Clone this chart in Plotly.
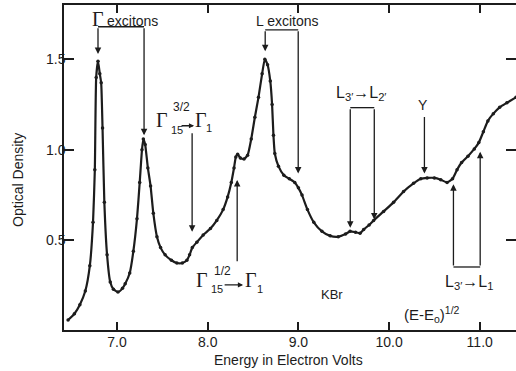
import plotly.graph_objects as go

# ---------------- data ----------------
energy = [6.46, 6.53, 6.59, 6.65, 6.70, 6.735, 6.755, 6.77, 6.79, 6.81, 6.825, 6.84,
          6.86, 6.89, 6.925, 6.96, 7.01, 7.06, 7.09, 7.14, 7.18, 7.22, 7.25, 7.275,
          7.29, 7.31, 7.34, 7.37, 7.40, 7.44, 7.48, 7.53, 7.60, 7.66, 7.72, 7.77,
          7.80, 7.83, 7.88, 7.95, 8.03, 8.10, 8.17, 8.22, 8.26, 8.29, 8.31, 8.33,
          8.36, 8.40, 8.44, 8.48, 8.52, 8.56, 8.60, 8.63, 8.66, 8.69, 8.71, 8.725,
          8.74, 8.78, 8.84, 8.90, 8.96, 9.00, 9.04, 9.10, 9.17, 9.26, 9.35, 9.44,
          9.52, 9.57, 9.63, 9.68, 9.72, 9.78, 9.83, 9.94, 10.05, 10.16, 10.27, 10.35,
          10.42, 10.50, 10.57, 10.64, 10.70, 10.75, 10.80, 10.87, 10.94, 10.99, 11.04,
          11.09, 11.15, 11.22, 11.30, 11.40]
optical_density = [0.06, 0.095, 0.145, 0.22, 0.36, 0.60, 0.89, 1.40, 1.49, 1.42, 1.37, 1.12,
                   0.71, 0.42, 0.27, 0.23, 0.215, 0.235, 0.26, 0.32, 0.44, 0.62, 0.82, 1.00,
                   1.06, 1.03, 0.90, 0.80, 0.65, 0.52, 0.46, 0.42, 0.39, 0.375, 0.375, 0.39,
                   0.42, 0.46, 0.49, 0.53, 0.565, 0.61, 0.67, 0.74, 0.82, 0.90, 0.96, 0.975,
                   0.955, 0.95, 0.97, 1.06, 1.18, 1.29, 1.42, 1.50, 1.47, 1.38, 1.25, 1.08,
                   0.98, 0.91, 0.86, 0.84, 0.82, 0.79, 0.75, 0.67, 0.60, 0.55, 0.525, 0.52,
                   0.535, 0.55, 0.545, 0.54, 0.56, 0.585, 0.61, 0.66, 0.71, 0.77, 0.815, 0.84,
                   0.845, 0.845, 0.835, 0.82, 0.84, 0.89, 0.93, 0.965, 1.005, 1.04, 1.10,
                   1.16, 1.20, 1.235, 1.26, 1.29]

x_tick_values = [7.0, 8.0, 9.0, 10.0, 11.0]
x_tick_labels = ["7.0", "8.0", "9.0", "10.0", "11.0"]
y_tick_values = [0.5, 1.0, 1.5]
y_tick_labels = ["0.5", "1.0", "1.5"]

x_range = [6.415, 11.40]
y_range = [0.005, 1.80]

INK = "#1c1c1c"
SANS = "Liberation Sans, Arial, sans-serif"
SERIF = "Liberation Serif, DejaVu Serif, serif"

fig = go.Figure()
fig.add_trace(go.Scatter(
    x=energy, y=optical_density, mode="lines+markers",
    line=dict(color=INK, width=2.2, shape="spline", smoothing=0.5),
    marker=dict(size=3.5, color=INK),
    showlegend=False, hoverinfo="skip"))
# carrier for the right-hand tick axis
fig.add_trace(go.Scatter(
    x=[energy[0]], y=[optical_density[0]], yaxis="y2", mode="markers",
    marker=dict(size=1, opacity=0), showlegend=False, hoverinfo="skip"))

annotations = []


def text(x, y, s, size=13, font=SANS, xanchor="center", yanchor="middle"):
    annotations.append(dict(x=x, y=y, xref="x", yref="y", text=s, showarrow=False,
                            xanchor=xanchor, yanchor=yanchor,
                            font=dict(family=font, size=size, color=INK)))


def arrow(x0, y0, x1, y1, head=2, size=1.0, width=1.3):
    annotations.append(dict(x=x1, y=y1, ax=x0, ay=y0, xref="x", yref="y",
                            axref="x", ayref="y", text="", showarrow=True,
                            arrowhead=head, arrowsize=size, arrowwidth=width,
                            arrowcolor=INK, standoff=0, startstandoff=0))


shapes = []


def seg(x0, y0, x1, y1, width=1.3):
    shapes.append(dict(type="line", xref="x", yref="y", x0=x0, y0=y0, x1=x1, y1=y1,
                       line=dict(color=INK, width=width)))


# Gamma excitons
text(6.79, 1.722, "Γ", size=20, font=SERIF)
text(6.87, 1.712, "excitons", size=14, xanchor="left")
seg(6.79, 1.68, 7.298, 1.68)
arrow(6.79, 1.68, 6.79, 1.53)
arrow(7.298, 1.68, 7.298, 1.08)

# L excitons
text(8.876, 1.713, "L excitons", size=14)
seg(8.634, 1.663, 8.998, 1.663)
arrow(8.634, 1.663, 8.634, 1.545)
arrow(8.998, 1.663, 8.998, 0.87)

# Gamma15 3/2 -> Gamma1
text(7.497, 1.166, "Γ", size=20, font=SERIF)
text(7.706, 1.238, "3/2", size=12)
text(7.662, 1.112, "15", size=11)
arrow(7.695, 1.133, 7.85, 1.133, size=0.8)
text(7.927, 1.166, "Γ", size=20, font=SERIF)
text(8.015, 1.118, "1", size=11)
arrow(7.828, 1.100, 7.828, 0.547)

# Gamma15 1/2 -> Gamma1
text(7.938, 0.282, "Γ", size=20, font=SERIF)
text(8.159, 0.331, "1/2", size=12)
text(8.104, 0.234, "15", size=11)
arrow(8.17, 0.254, 8.39, 0.254, size=0.8)
text(8.479, 0.282, "Γ", size=20, font=SERIF)
text(8.578, 0.234, "1", size=11)
arrow(8.325, 0.376, 8.325, 0.834)

# L3' -> L2'
text(9.693, 1.312, "L<sub>3′</sub>→L<sub>2′</sub>", size=16)
seg(9.572, 1.233, 9.837, 1.233)
arrow(9.572, 1.233, 9.572, 0.57)
arrow(9.837, 1.233, 9.837, 0.615)

# Y
text(10.377, 1.249, "Y", size=14)
arrow(10.39, 1.19, 10.39, 0.87)

# L3' -> L1
text(10.885, 0.268, "L<sub>3′</sub>→L<sub>1</sub>", size=16)
seg(10.71, 0.353, 11.005, 0.353)
arrow(10.71, 0.353, 10.71, 0.81)
arrow(11.005, 0.353, 11.005, 0.99)

text(9.373, 0.199, "KBr", size=13)
text(10.477, 0.088, "(E-E<sub>o</sub>)<sup>1/2</sup>", size=15)

# axis titles as paper annotations
annotations.append(dict(x=0.496, y=-0.092, xref="paper", yref="paper",
                        xanchor="center", yanchor="middle",
                        text="Energy in Electron Volts", showarrow=False,
                        font=dict(family=SANS, size=14, color=INK)))
annotations.append(dict(x=-0.102, y=0.4615, xref="paper", yref="paper",
                        xanchor="center", yanchor="middle",
                        text="Optical Density", showarrow=False, textangle=-90,
                        font=dict(family=SANS, size=14, color=INK)))

axis_common = dict(showgrid=False, zeroline=False, ticks="inside", tickcolor=INK,
                   tickwidth=1.5, linecolor=INK, linewidth=1.5,
                   tickfont=dict(family=SANS, size=14, color=INK))

fig.update_layout(
    width=516, height=371,
    margin=dict(l=64, r=0, t=5, b=41, pad=0),
    paper_bgcolor="white", plot_bgcolor="white",
    showlegend=False,
    xaxis=dict(range=x_range, tickvals=x_tick_values, ticktext=x_tick_labels,
               ticklen=8, showline=True, mirror="ticks", ticklabelstandoff=-2,
               **axis_common),
    yaxis=dict(range=y_range, tickvals=y_tick_values, ticktext=y_tick_labels,
               ticklen=10, showline=True, ticklabelstandoff=-6, **axis_common),
    yaxis2=dict(range=y_range, tickvals=y_tick_values, overlaying="y", side="right",
                showticklabels=False, ticklen=10, showline=False, showgrid=False,
                zeroline=False, ticks="inside", tickcolor=INK, tickwidth=1.5),
    annotations=annotations,
    shapes=shapes,
)

fig.write_html("out.html")
